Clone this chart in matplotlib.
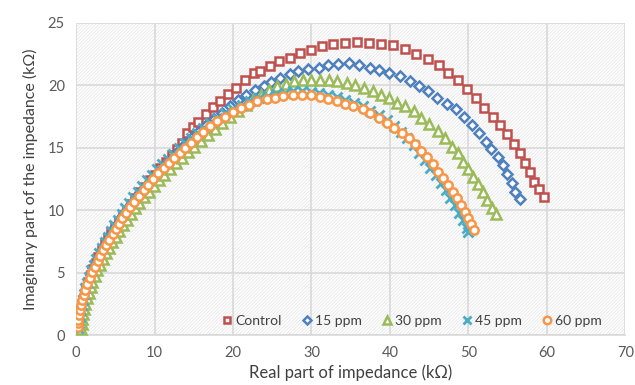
import matplotlib
matplotlib.use("Agg")
import matplotlib.pyplot as plt
from matplotlib.patches import Rectangle

# Nyquist data (Z' and -Z'' in kOhm)
control_x = [0.4, 0.5, 0.6, 0.75, 0.9, 1.1, 1.3, 1.55, 1.85, 2.15, 2.5, 2.85, 3.25, 3.65, 4.05,
             4.5, 4.95, 5.45, 5.95, 6.45, 7.0, 7.55, 8.15, 8.75, 9.4, 10.05, 10.75, 11.45, 12.2,
             12.9, 13.5, 14.1, 14.9, 15.6, 16.6, 17.5, 18.3, 19.4, 20.4, 21.5, 22.7, 23.5, 24.7,
             25.9, 27.3, 28.5, 29.9, 31.3, 32.8, 34.3, 35.8, 37.3, 38.9, 40.4, 41.9, 43.3, 44.8,
             46.2, 47.4, 48.7, 49.8, 51.0, 52.0, 53.1, 54.0, 54.9, 55.8, 56.6, 57.2, 57.8, 58.3,
             59.0, 59.6]
control_y = [0.8, 1.3, 1.8, 2.3, 2.8, 3.3, 3.8, 4.3, 4.8, 5.3, 5.8, 6.3, 6.8, 7.3, 7.75,
             8.2, 8.7, 9.15, 9.6, 10.05, 10.5, 10.95, 11.45, 11.9, 12.4, 12.85, 13.35, 13.85, 14.4,
             14.9, 15.4, 16.2, 16.7, 17.1, 17.7, 18.25, 18.7, 19.3, 19.8, 20.4, 21.0, 21.1, 21.5,
             21.9, 22.2, 22.6, 22.8, 23.15, 23.3, 23.4, 23.45, 23.4, 23.3, 23.2, 22.9, 22.5, 22.1,
             21.6, 21.0, 20.4, 19.7, 19.0, 18.2, 17.5, 16.8, 16.1, 15.3, 14.6, 13.8, 13.1, 12.3,
             11.7, 11.1]

ppm15_x = [0.4, 0.5, 0.6, 0.75, 0.9, 1.1, 1.35, 1.6, 1.9, 2.2, 2.55, 2.9, 3.3, 3.7, 4.1,
           4.55, 5.0, 5.5, 6.0, 6.5, 7.05, 7.6, 8.2, 8.8, 9.45, 10.1, 10.8, 11.5, 12.4, 13.1,
           13.9, 14.7, 15.6, 16.6, 17.6, 18.6, 19.6, 20.7, 21.7, 22.8, 23.9, 24.9, 26.0, 27.2,
           28.3, 29.6, 30.9, 32.1, 33.4, 34.8, 36.1, 37.4, 38.6, 39.9, 41.3, 42.5, 43.7, 44.9,
           46.0, 47.2, 48.4, 49.4, 50.4, 51.3, 52.2, 52.9, 53.8, 54.4, 54.95, 55.5, 55.9, 56.5]
ppm15_y = [0.8, 1.3, 1.8, 2.3, 2.8, 3.3, 3.85, 4.35, 4.85, 5.35, 5.85, 6.3, 6.8, 7.25, 7.7,
           8.2, 8.65, 9.1, 9.6, 10.05, 10.5, 11.0, 11.45, 11.9, 12.35, 12.8, 13.25, 13.7, 14.3, 14.8,
           15.3, 15.8, 16.3, 16.8, 17.3, 17.8, 18.3, 18.8, 19.2, 19.6, 19.95, 20.25, 20.55, 20.9,
           21.15, 21.3, 21.4, 21.6, 21.7, 21.75, 21.6, 21.4, 21.2, 20.95, 20.7, 20.3, 19.9, 19.5,
           18.95, 18.5, 18.1, 17.5, 16.8, 16.15, 15.5, 14.9, 14.3, 13.6, 12.9, 12.15, 11.5, 10.9]

ppm30_x = [0.6, 0.7, 0.8, 0.9, 1.05, 1.2, 1.4, 1.6, 1.85, 2.1, 2.4, 2.7, 3.05, 3.4, 3.8,
           4.2, 4.6, 5.05, 5.5, 5.95, 6.45, 6.95, 7.5, 8.05, 8.65, 9.25, 9.9, 10.55, 11.25, 11.95,
           12.7, 13.45, 14.25, 15.05, 15.9, 16.8, 17.7, 18.6, 19.6, 20.6, 21.6, 22.6, 23.6, 24.6,
           25.6, 26.7, 27.8, 28.9, 30.0, 31.1, 32.2, 33.3, 34.5, 35.6, 36.7, 37.8, 38.8, 39.9,
           40.9, 41.9, 43.0, 43.9, 45.0, 46.1, 47.0, 47.9, 48.7, 49.3, 50.0, 50.6, 51.25, 51.9,
           52.4, 53.0, 53.5]
ppm30_y = [0.5, 0.9, 1.3, 1.7, 2.1, 2.5, 2.95, 3.4, 3.85, 4.3, 4.75, 5.2, 5.65, 6.1, 6.55,
           7.0, 7.45, 7.9, 8.35, 8.8, 9.25, 9.7, 10.15, 10.6, 11.05, 11.5, 11.95, 12.4, 12.85, 13.3,
           13.75, 14.2, 14.65, 15.1, 15.55, 16.0, 16.5, 17.0, 17.5, 17.95, 18.4, 18.85, 19.25, 19.6,
           19.9, 20.1, 20.3, 20.4, 20.45, 20.45, 20.4, 20.3, 20.15, 20.05, 19.8, 19.5, 19.25, 18.95,
           18.6, 18.3, 17.9, 17.4, 16.9, 16.35, 15.75, 15.1, 14.55, 13.9, 13.3, 12.7, 12.1, 11.5,
           10.8, 10.2, 9.7]

ppm45_x = [0.3, 0.35, 0.45, 0.55, 0.7, 0.85, 1.0, 1.2, 1.4, 1.65, 1.95, 2.25, 2.6, 2.95, 3.3,
           3.7, 4.1, 4.5, 4.9, 5.35, 5.8, 6.3, 6.8, 7.3, 7.85, 8.45, 9.05, 9.7, 10.35, 11.0,
           11.7, 12.4, 13.1, 13.85, 14.6, 15.4, 16.2, 17.1, 18.0, 19.0, 20.0, 21.1, 22.2, 23.3,
           24.4, 25.5, 26.6, 27.7, 28.8, 29.9, 31.0, 32.1, 33.2, 34.3, 35.4, 36.5, 37.5, 38.6,
           39.6, 40.5, 41.4, 42.2, 43.0, 43.7, 44.4, 45.1, 45.8, 46.5, 47.1, 47.7, 48.3, 48.8,
           49.3, 49.8, 50.0]
ppm45_y = [0.6, 1.0, 1.5, 1.95, 2.4, 2.85, 3.3, 3.75, 4.2, 4.7, 5.2, 5.65, 6.1, 6.55, 7.0,
           7.45, 7.9, 8.35, 8.8, 9.25, 9.7, 10.15, 10.6, 11.05, 11.5, 11.95, 12.4, 12.85, 13.3, 13.7,
           14.1, 14.5, 14.95, 15.35, 15.75, 16.15, 16.55, 16.95, 17.35, 17.75, 18.1, 18.4, 18.7, 18.95,
           19.15, 19.3, 19.4, 19.5, 19.5, 19.45, 19.35, 19.2, 19.05, 18.85, 18.6, 18.3, 17.95, 17.6,
           17.2, 16.75, 16.25, 15.75, 15.2, 14.6, 14.0, 13.4, 12.8, 12.2, 11.6, 11.0, 10.4, 9.8,
           9.2, 8.6, 8.3]

ppm60_x = [0.2, 0.25, 0.3, 0.4, 0.5, 0.65, 0.8, 1.0, 1.2, 1.45, 1.75, 2.05, 2.4, 2.75, 3.1,
           3.5, 3.85, 4.25, 4.65, 5.05, 5.45, 5.9, 6.4, 6.9, 7.45, 8.0, 8.6, 9.2, 9.85, 10.5,
           11.15, 11.8, 12.5, 13.2, 13.9, 14.6, 15.4, 16.2, 17.1, 18.0, 19.0, 20.0, 21.0, 22.1,
           23.1, 24.3, 25.35, 26.4, 27.6, 28.8, 30.0, 31.1, 32.1, 33.2, 34.3, 35.3, 36.5, 37.5,
           38.6, 39.6, 40.5, 41.5, 42.4, 43.2, 44.0, 44.75, 45.5, 46.15, 46.8, 47.4, 48.0, 48.5,
           49.0, 49.55, 50.0, 50.3, 50.7]
ppm60_y = [0.7, 0.95, 1.2, 1.6, 2.0, 2.4, 2.8, 3.2, 3.6, 4.1, 4.6, 5.05, 5.5, 5.95, 6.35,
           6.8, 7.2, 7.65, 8.1, 8.5, 8.9, 9.35, 9.8, 10.25, 10.7, 11.15, 11.6, 12.05, 12.5, 12.95,
           13.35, 13.75, 14.2, 14.6, 15.0, 15.4, 15.85, 16.3, 16.75, 17.15, 17.5, 17.85, 18.15, 18.45,
           18.7, 18.9, 19.0, 19.1, 19.2, 19.25, 19.2, 19.05, 18.9, 18.7, 18.5, 18.3, 18.1, 17.75,
           17.4, 17.0, 16.6, 16.15, 15.75, 15.3, 14.75, 14.3, 13.7, 13.1, 12.55, 12.0, 11.5, 10.95,
           10.4, 9.9, 9.35, 8.9, 8.4]

labels = ["Control", "15 ppm", "30 ppm", "45 ppm", "60 ppm"]
x_ticks = [0, 10, 20, 30, 40, 50, 60, 70]
y_ticks = [0, 5, 10, 15, 20, 25]

plt.rcParams["font.family"] = ["Lato", "DejaVu Sans"]
plt.rcParams["hatch.linewidth"] = 0.5
plt.rcParams["hatch.color"] = "#e3e3e3"

fig = plt.figure(figsize=(6.35, 3.85), dpi=100)
ax = fig.add_axes([0.1197, 0.129, 0.8653, 0.812])

# Excel-style light diagonal pattern in the plot area
ax.add_patch(Rectangle((0, 0), 1, 1, transform=ax.transAxes, facecolor="white",
                       edgecolor="#e3e3e3", hatch="/" * 10, lw=0, zorder=0))

series = [
    (control_x, control_y, "s", "#c0504d", 5.5),
    (ppm15_x, ppm15_y, "D", "#4f81bd", 5.0),
    (ppm30_x, ppm30_y, "^", "#9bbb59", 6.5),
    (ppm45_x, ppm45_y, "x", "#4bacc6", 6.5),
    (ppm60_x, ppm60_y, "o", "#f79646", 6.0),
]
for (xs, ys, mk, col, ms), lab in zip(series, labels):
    if mk == "x":
        ax.plot(xs, ys, ls="none", marker=mk, ms=ms, mew=2.0, color=col, label=lab, zorder=3)
    else:
        ax.plot(xs, ys, ls="none", marker=mk, ms=ms, mew=1.8, mec=col, mfc="white",
                label=lab, zorder=3)

ax.set_xlim(0, 70)
ax.set_ylim(0, 25)
ax.set_xticks(x_ticks)
ax.set_yticks(y_ticks)
ax.grid(True, color="#d9d9d9", lw=1.2, zorder=1)
ax.set_axisbelow(True)
ax.tick_params(length=0, labelsize=10.5, colors="#595959", pad=8)
for s in ["top", "right", "left"]:
    ax.spines[s].set_visible(False)
ax.spines["bottom"].set_color("#d9d9d9")
ax.spines["bottom"].set_linewidth(1.2)

ax.set_xlabel("Real part of impedance (kΩ)", fontsize=12, color="#404040", labelpad=3)
ax.set_ylabel("Imaginary part of the impedance (kΩ)", fontsize=11.5, color="#404040",
              labelpad=7)

leg = ax.legend(loc="center", bbox_to_anchor=(0.61, 0.045), ncol=5, frameon=False,
                fontsize=10, handletextpad=0.1, columnspacing=1.3, handlelength=1.0,
                markerscale=0.9)
for t in leg.get_texts():
    t.set_color("#404040")

fig.savefig("out.png", dpi=100)
